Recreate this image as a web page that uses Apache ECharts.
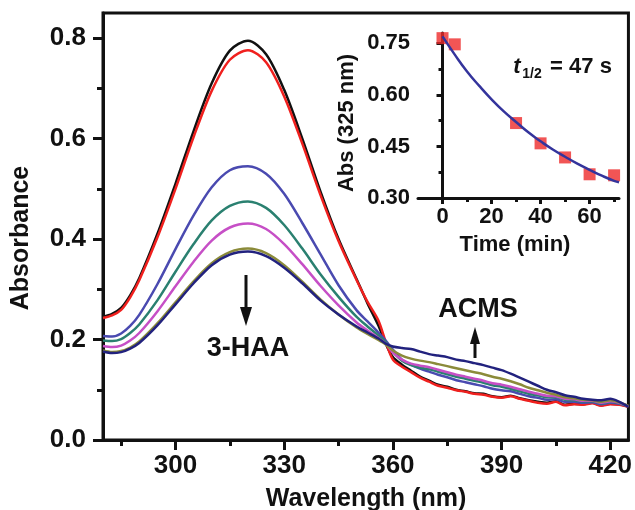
<!DOCTYPE html>
<html><head><meta charset="utf-8">
<script src="https://cdn.jsdelivr.net/npm/echarts@6/dist/echarts.min.js"></script>
<style>html,body{margin:0;padding:0;background:#fff}#c{width:635px;height:510px}</style>
</head><body><div id="c"></div>
<script>
// ---- data ----
const wavelengths = [280,282.5,285,287.5,290,295,300,305,310,315,320,325,330,335,340,345,350,353,356,358,360,362.5,365,367.5,370,372.5,375,377.5,380,382.5,385,387.5,390,392.5,395,397.5,400,402.5,405,407.5,410,412.5,415,417.5,420,422.5,425];
const absBlack = [.245,.251,.263,.288,.322,.410,.510,.615,.710,.775,.795,.768,.697,.600,.495,.400,.320,.272,.228,.192,.165,.150,.138,.126,.118,.110,.106,.100,.097,.093,.092,.087,.085,.088,.083,.079,.076,.074,.077,.070,.072,.071,.074,.069,.072,.071,.066];
const absRed = [.243,.248,.259,.284,.318,.403,.500,.603,.695,.757,.776,.752,.684,.590,.488,.396,.318,.275,.238,.196,.160,.146,.135,.124,.116,.108,.104,.099,.096,.092,.090,.086,.084,.087,.082,.078,.074,.072,.076,.069,.071,.070,.073,.068,.071,.070,.066];
const absBlue = [.207,.206,.212,.227,.249,.310,.380,.447,.503,.537,.545,.530,.490,.432,.370,.308,.258,.236,.214,.198,.180,.160,.150,.142,.136,.130,.125,.119,.115,.111,.107,.102,.099,.097,.092,.087,.084,.080,.081,.076,.076,.074,.075,.071,.074,.072,.067];
const absTeal = [.198,.197,.201,.213,.230,.278,.335,.390,.437,.466,.475,.462,.428,.381,.330,.285,.245,.226,.208,.195,.176,.158,.149,.144,.141,.136,.131,.126,.122,.118,.114,.109,.106,.102,.097,.092,.089,.085,.085,.080,.079,.077,.077,.073,.076,.073,.067];
const absMagenta = [.187,.185,.188,.198,.213,.256,.306,.355,.397,.423,.431,.420,.390,.350,.307,.268,.234,.218,.203,.192,.174,.160,.152,.148,.145,.140,.135,.130,.126,.122,.118,.113,.110,.106,.101,.096,.092,.088,.087,.082,.081,.078,.078,.074,.077,.074,.067];
const absOlive = [.178,.175,.177,.184,.196,.232,.274,.316,.352,.374,.381,.372,.348,.315,.280,.250,.224,.211,.199,.190,.178,.168,.162,.158,.155,.151,.147,.143,.139,.135,.131,.126,.122,.117,.111,.104,.099,.094,.090,.085,.083,.080,.079,.076,.079,.075,.068];
const absNavy = [.176,.173,.175,.182,.193,.228,.270,.312,.348,.369,.375,.366,.343,.312,.278,.250,.226,.214,.202,.192,.186,.183,.181,.176,.171,.168,.165,.160,.157,.153,.149,.144,.139,.132,.124,.116,.108,.100,.095,.089,.086,.082,.080,.079,.082,.076,.066];

const timeMin = [0,5,30,40,50,60,70];
const abs325 = [0.765,0.747,0.518,0.459,0.418,0.369,0.366];
const fitTime = [0,5,10,15,20,25,30,35,40,45,50,55,60,65,70,72];
const fitAbs = [0.770,0.717,0.668,0.626,0.587,0.552,0.521,0.491,0.465,0.441,0.420,0.400,0.382,0.365,0.350,0.346];

const xMajor = [300,330,360,390,420];
const xMinor = [285,315,345,375,405];
const yMajor = [0,0.2,0.4,0.6,0.8];
const yMinor = [0.1,0.3,0.5,0.7];
const ixMajor = [0,20,40,60];
const ixMinor = [10,30,50,70];
const iyMajor = [0.30,0.45,0.60,0.75];
const iyMinor = [0.375,0.525,0.675];

// ---- styles ----
const FONT = '"Liberation Sans", Arial, Helvetica, sans-serif';
const spectra = [
  ['t0', absBlack, '#111111'],
  ['t5', absRed, '#f0201e'],
  ['t30', absBlue, '#4a4ab0'],
  ['t40', absTeal, '#2a8070'],
  ['t50', absMagenta, '#c64fc6'],
  ['t60', absOlive, '#8b8b3a'],
  ['t70', absNavy, '#22227e']
];
const zip = (xs, ys) => xs.map((x, i) => [x, ys[i]]);

function mkAxis(grid, pos, min, max, ticks, len, labels, fmt, fs, margin, showLine) {
  return {
    type: 'value', gridIndex: grid, position: pos, min: min, max: max,
    axisLine: { show: showLine, lineStyle: { color: '#111', width: 3 } },
    axisTick: { show: true, inside: false, length: len, customValues: ticks, lineStyle: { color: '#111', width: 3 } },
    axisLabel: labels ? { show: true, customValues: ticks, formatter: fmt, margin: margin,
      fontFamily: FONT, fontWeight: 'bold', fontSize: fs, color: '#111' } : { show: false },
    splitLine: { show: false }
  };
}

const chart = echarts.init(document.getElementById('c'), null, { renderer: 'canvas' });
const series = spectra.map(s => ({
  type: 'line', name: s[0], xAxisIndex: 0, yAxisIndex: 0,
  data: zip(wavelengths, s[1]), showSymbol: false, smooth: 0.3,
  lineStyle: { color: s[2], width: 2.5 }, itemStyle: { color: s[2] }
}));
series.push({
  type: 'scatter', xAxisIndex: 2, yAxisIndex: 2, data: zip(timeMin, abs325),
  symbol: 'rect', symbolSize: 12, itemStyle: { color: '#ee2a2a' }, z: 3
});
series.push({
  type: 'line', xAxisIndex: 2, yAxisIndex: 2, data: zip(fitTime, fitAbs),
  showSymbol: false, smooth: true, lineStyle: { color: '#34349c', width: 2.5 }, z: 4
});

const T = (x, y, text, fs, extra) => Object.assign({
  type: 'text', x: x, y: y, z: 100,
  style: { text: text, font: 'bold ' + fs + 'px ' + FONT, fill: '#111', align: 'center', verticalAlign: 'middle' }
}, extra || {});

chart.setOption({
  animation: false,
  backgroundColor: '#ffffff',
  grid: [
    { left: 103, top: 13, width: 527, height: 427, show: true, borderColor: '#111', borderWidth: 3, backgroundColor: 'transparent' },
    { left: 418, top: 33, width: 201, height: 165, show: false }
  ],
  xAxis: [
    mkAxis(0, 'bottom', 280, 425, xMajor, 10, true, v => String(v), 26, 13, true),
    mkAxis(0, 'bottom', 280, 425, xMinor, 6, false, null, 26, 13, false),
    mkAxis(1, 'bottom', -10, 72, ixMajor, 6, true, v => String(v), 22, 8, true),
    mkAxis(1, 'bottom', -10, 72, ixMinor, 4, false, null, 22, 8, false)
  ],
  yAxis: [
    mkAxis(0, 'left', 0, 0.85, yMajor, 10, true, v => v.toFixed(1), 26, 17, true),
    mkAxis(0, 'left', 0, 0.85, yMinor, 6, false, null, 26, 17, false),
    mkAxis(1, 'left', 0.30, 0.78, iyMajor, 6, true, v => v.toFixed(2), 22, 8, true),
    mkAxis(1, 'left', 0.30, 0.78, iyMinor, 4, false, null, 22, 8, false)
  ],
  series: series,
  graphic: [
    T(21, 238, 'Absorbance', 25, { rotation: Math.PI / 2 }),
    T(366, 499, 'Wavelength (nm)', 25),
    T(347, 123, 'Abs (325 nm)', 22, { rotation: Math.PI / 2 }),
    T(515, 245, 'Time (min)', 22),
    T(517, 67, 't', 22, { style: { text: 't', font: 'italic bold 22px ' + FONT, fill: '#111', align: 'center', verticalAlign: 'middle' } }),
    T(532, 74, '1/2', 14),
    T(581, 67, '= 47 s', 22),
    T(248, 349, '3-HAA', 27),
    T(478, 310, 'ACMS', 27),
    { type: 'line', z: 100, shape: { x1: 246, y1: 275, x2: 246, y2: 312 }, style: { stroke: '#111', lineWidth: 3 } },
    { type: 'polygon', z: 100, shape: { points: [[240, 307], [252, 307], [246, 326]] }, style: { fill: '#111' } },
    { type: 'line', z: 100, shape: { x1: 475, y1: 358, x2: 475, y2: 340 }, style: { stroke: '#111', lineWidth: 3 } },
    { type: 'polygon', z: 100, shape: { points: [[470, 344], [480, 344], [475, 327]] }, style: { fill: '#111' } }
  ]
});
</script>
</body></html>
